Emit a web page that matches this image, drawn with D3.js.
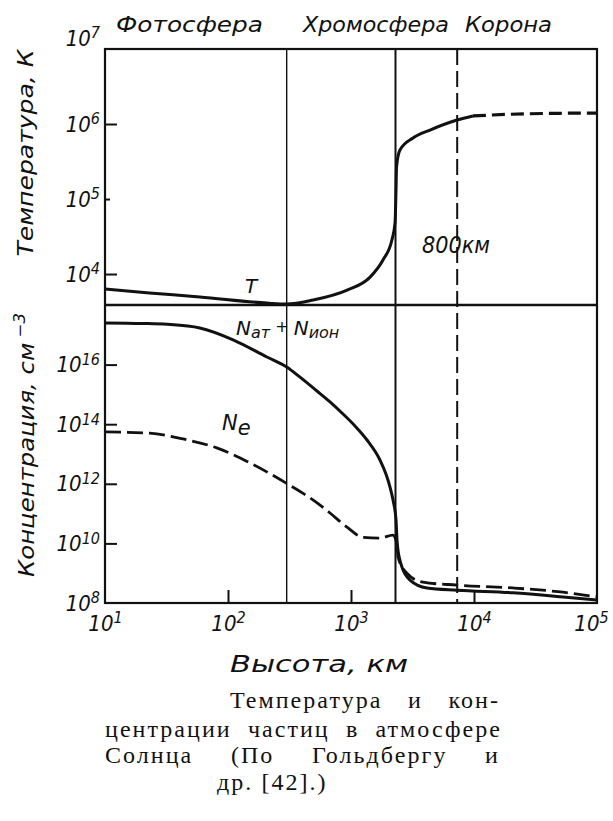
<!DOCTYPE html>
<html><head><meta charset="utf-8">
<script src="https://cdn.jsdelivr.net/npm/d3@7"></script>
<style>body{margin:0;background:#fff}svg{display:block}</style>
</head><body>
<svg id="c" width="613" height="821"></svg>
<script>
// ---- data (height in km) ----
const heightsT  = [10, 23, 59, 207, 300, 490, 930, 1430, 1820, 2150, 2280, 2323, 2345, 2500, 3190, 4390, 7280, 9800];
const tempK     = [6300, 5600, 4950, 4100, 3980, 4500, 6100, 9100, 15400, 28400, 48000, 132000, 267000, 450000, 650000, 830000, 1130000, 1280000];
const heightsTDashed = [9800, 20000, 50000, 100000];
const tempKDashed    = [1280000, 1350000, 1390000, 1400000];
const heightsN  = [10, 20, 32, 59, 110, 207, 300, 385, 529, 675, 861, 1078, 1349, 1720, 1927, 2076, 2194, 2323, 2366, 2500, 3020, 4150, 7280, 20700, 53000, 100000];
const nTotal    = [2.5e17, 2.4e17, 2.25e17, 1.7e17, 6.8e16, 1.8e16, 8.3e15, 3.8e15, 1.3e15, 5.6e14, 2.2e14, 8.7e13, 2.95e13, 6.3e12, 2.1e12, 7.8e11, 2.9e11, 6.1e10, 1.3e10, 2.7e9, 5.9e8, 3.2e8, 2.7e8, 2.2e8, 1.6e8, 1.26e8];
const heightsNe = [10, 23, 43, 81, 151, 295, 530, 675, 927, 1250, 1720, 2190, 2366, 2410, 2850, 3850, 7280, 20700, 53000, 100000];
const nElectron = [5.5e13, 5.0e13, 3.2e13, 1.6e13, 5.0e12, 1.07e12, 2.3e11, 1.05e11, 3.5e10, 1.6e10, 1.5e10, 1.9e10, 8.9e9, 3.5e9, 1.0e9, 5.0e8, 4.0e8, 3.2e8, 2.3e8, 1.6e8];
const boundaryHeights = [300, 2300, 7300];
const regionNames = ["Фотосфера", "Хромосфера", "Корона"];
const xTicks = [1e1, 1e2, 1e3, 1e4, 1e5];
const tTicks = [1e4, 1e5, 1e6, 1e7];
const nTicks = [1e8, 1e10, 1e12, 1e14, 1e16];
const captionLines = ["Температура и кон-", "центрации частиц в атмосфере", "Солнца (По Гольдбергу и", "др. [42].)"];

// ---- layout ----
const M = {left:105, right:597, top:49, mid:305, bottom:603};
const svg = d3.select("#c");
const ink = "#111";
const italicSans = "'DejaVu Sans', sans-serif";
const narrow = "'Liberation Sans Narrow','DejaVu Sans Condensed','Liberation Sans',sans-serif";

const x  = d3.scaleLog().domain([1e1, 1e5]).range([M.left, M.right]);
const yT = d3.scaleLog().domain([3864, 1e7]).range([M.mid, M.top]);
const yN = d3.scaleLog().domain([1e8, 1e18]).range([M.bottom, M.mid]);

function supify(g) {
  g.select(".domain").remove();
  g.attr("font-family", narrow).attr("font-size", 22).attr("font-style", "italic");
  g.selectAll(".tick line").attr("stroke", ink).attr("stroke-width", 2);
  g.selectAll(".tick text").each(function(d) {
    const t = d3.select(this).attr("fill", ink);
    t.append("tspan").text("10");
    t.append("tspan").attr("dy", "-0.45em").attr("font-size", 16).text(Math.round(Math.log10(d)));
  });
}

// x axis
const gx = svg.append("g").attr("transform", `translate(0,${M.bottom})`)
  .call(d3.axisBottom(x).tickValues(xTicks).tickSizeInner(-13).tickSizeOuter(0).tickPadding(12).tickFormat(""));
supify(gx);
gx.selectAll(".tick").filter(d => d === 1e1 || d === 1e5).select("line").remove();
gx.selectAll(".tick").filter(d => d === 1e5).select("text").attr("dx", -6);

// y axis (temperature)
const gyT = svg.append("g").attr("transform", `translate(${M.left},0)`)
  .call(d3.axisLeft(yT).tickValues(tTicks).tickSizeInner(-12).tickSizeOuter(0).tickPadding(5).tickFormat(""));
supify(gyT);
gyT.selectAll(".tick").filter(d => d === 1e5).select("line").attr("x2", 5);
gyT.selectAll(".tick").filter(d => d === 1e7).select("line").remove();
gyT.selectAll(".tick").filter(d => d === 1e7).select("text").attr("dy", "-0.18em");

// y axis (concentration)
const gyN = svg.append("g").attr("transform", `translate(${M.left},0)`)
  .call(d3.axisLeft(yN).tickValues(nTicks).tickSizeInner(-12).tickSizeOuter(0).tickPadding(5).tickFormat(""));
supify(gyN);
gyN.selectAll(".tick").filter(d => d === 1e8).select("line").remove();

// frame
const frame = svg.append("g").attr("stroke", ink).attr("fill", "none");
frame.append("rect").attr("x", M.left).attr("y", M.top).attr("width", M.right - M.left).attr("height", M.bottom - M.top).attr("stroke-width", 2.2);
frame.append("line").attr("x1", M.left).attr("x2", M.right).attr("y1", M.mid).attr("y2", M.mid).attr("stroke-width", 2.4);

// boundaries
const bStyles = [{w:1.4, dash:null}, {w:2, dash:null}, {w:2, dash:"16,6"}];
svg.append("g").selectAll("line").data(boundaryHeights).join("line")
  .attr("x1", d => x(d)).attr("x2", d => x(d)).attr("y1", M.top).attr("y2", M.bottom)
  .attr("stroke", ink).attr("stroke-width", (d,i) => bStyles[i].w)
  .attr("stroke-dasharray", (d,i) => bStyles[i].dash);

// curves
const lineT = d3.line().x(d => x(d[0])).y(d => yT(d[1])).curve(d3.curveMonotoneX);
const lineN = d3.line().x(d => x(d[0])).y(d => yN(d[1])).curve(d3.curveMonotoneX);
const curves = svg.append("g").attr("fill", "none").attr("stroke", ink).attr("stroke-linejoin", "round");
curves.append("path").datum(d3.zip(heightsT, tempK)).attr("d", lineT).attr("stroke-width", 3);
curves.append("path").datum(d3.zip(heightsTDashed, tempKDashed)).attr("d", lineT).attr("stroke-width", 3.2).attr("stroke-dasharray", "13,6");
curves.append("path").datum(d3.zip(heightsN, nTotal)).attr("d", lineN).attr("stroke-width", 3);
curves.append("path").datum(d3.zip(heightsNe, nElectron)).attr("d", lineN).attr("stroke-width", 2.8).attr("stroke-dasharray", "16,6");

// annotations
const ann = svg.append("g").attr("font-family", italicSans).attr("font-style", "italic").attr("fill", ink);
ann.append("text").attr("x", 245).attr("y", 293).attr("font-size", 20).text("T");
const nl = ann.append("text").attr("x", 236).attr("y", 335).attr("font-size", 20);
nl.append("tspan").text("N");
nl.append("tspan").attr("font-size", 16).attr("dy", 3).text("ат");
nl.append("tspan").attr("font-size", 16).attr("dy", -6).text(" + ");
nl.append("tspan").attr("dy", 3).text("N");
nl.append("tspan").attr("font-size", 16).attr("dy", 3).text("ион");
const ne = ann.append("text").attr("x", 222).attr("y", 430).attr("font-size", 21);
ne.append("tspan").text("N");
ne.append("tspan").attr("dy", 5).text("e");
ann.append("text").attr("x", 422).attr("y", 253).attr("font-size", 23).attr("textLength", 68).attr("lengthAdjust", "spacingAndGlyphs").text("800км");

// region names
const regionX = [116, 303, 465], regionW = [147, 146, 87];
svg.append("g").selectAll("text").data(regionNames).join("text")
  .attr("x", (d,i) => regionX[i]).attr("y", 32)
  .attr("font-family", italicSans).attr("font-style", "italic").attr("font-size", 22).attr("fill", ink)
  .attr("textLength", (d,i) => regionW[i]).attr("lengthAdjust", "spacingAndGlyphs")
  .text(d => d);

// axis titles
svg.append("text").attr("transform", "translate(33,153) rotate(-90)").attr("text-anchor", "middle")
  .attr("font-family", italicSans).attr("font-style", "italic").attr("font-size", 22).attr("fill", ink)
  .attr("textLength", 207).attr("lengthAdjust", "spacingAndGlyphs").text("Температура, К");
const ct = svg.append("text").attr("transform", "translate(34,445) rotate(-90)").attr("text-anchor", "middle")
  .attr("font-family", italicSans).attr("font-style", "italic").attr("font-size", 22).attr("fill", ink)
  .attr("textLength", 264).attr("lengthAdjust", "spacingAndGlyphs");
ct.append("tspan").text("Концентрация, см");
ct.append("tspan").attr("dy", -9).attr("font-size", 15).text(" −3");
svg.append("text").attr("x", 230).attr("y", 672)
  .attr("font-family", italicSans).attr("font-style", "italic").attr("font-size", 23).attr("fill", ink)
  .attr("textLength", 178).attr("lengthAdjust", "spacingAndGlyphs").text("Высота, км");

// caption
const capX = [230, 105, 105, 217], capY = [708, 737, 763, 790], capEnd = [500, 502, 500, null];
const caps = svg.append("g").selectAll("text").data(captionLines).join("text")
  .attr("x", (d,i) => capX[i]).attr("y", (d,i) => capY[i])
  .attr("font-family", "'Liberation Serif','DejaVu Serif',serif").attr("font-size", 24).attr("fill", ink)
  .text(d => d);
const n2 = caps.nodes()[1];
const ls = 0.7 * (capEnd[1] - capX[1] - n2.getComputedTextLength()) / captionLines[1].length;
caps.attr("letter-spacing", ls).each(function(d, i) {
  if (capEnd[i] == null) return;
  const len = this.getComputedTextLength();
  const gaps = (d.match(/ /g) || []).length;
  if (gaps > 0) d3.select(this).attr("word-spacing", Math.max(0, (capEnd[i] - capX[i] - len) / gaps));
});
</script>
</body></html>
